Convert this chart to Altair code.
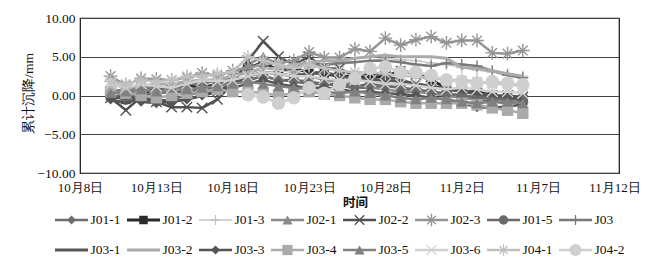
import json
import altair as alt
import pandas as pd

# ---------------- data ----------------
# x = days after 10月8日 ; readings run daily from 10/10 to 11/6
obs_days = list(range(2, 30))
tick_days = [0, 5, 10, 15, 20, 25, 30, 35]
tick_labels = ["10月8日", "10月13日", "10月18日", "10月23日", "10月28日",
               "11月2日", "11月7日", "11月12日"]
y_ticks = [-10, -5, 0, 5, 10]

series_names = ["J01-1", "J01-2", "J01-3", "J02-1", "J02-2", "J02-3", "J01-5", "J03",
                "J03-1", "J03-2", "J03-3", "J03-4", "J03-5", "J03-6", "J04-1", "J04-2"]

J01_1 = [-0.3, 0.2, -0.5, -0.8, -0.5, 0.0, 0.5, 0.8, 1.5, 2.0, 2.5, 2.0, 1.8, 1.5,
         1.5, 1.2, 1.0, 1.0, 1.2, 1.0, 0.5, 0.3, 0.0, -0.3, -0.5, -0.8, -1.0, -0.8]
J01_2 = [0.0, -0.5, 0.3, 0.8, 1.0, 1.3, 1.0, 1.5, 2.5, 3.5, 4.3, 3.2, 3.5, 3.0,
         2.8, 2.5, 2.5, 2.3, 2.5, 3.2, 2.8, 2.0, 1.0, 0.5, 0.5, 0.0, -0.3, -0.5]
J01_3 = [1.0, 0.5, 1.0, 1.2, 1.0, 1.5, 1.8, 2.0, 2.5, 3.0, 3.5, 3.2, 3.0, 3.5,
         3.8, 4.0, 4.3, 4.5, 4.8, 4.6, 4.5, 4.2, 4.0, 3.6, 3.3, 3.0, 2.8, 2.5]
J02_1 = [0.5, 0.0, 0.8, 0.5, 0.3, 0.8, 0.5, 1.0, 2.0, 4.0, 5.0, 4.0, 3.0, 2.5,
         2.0, 1.8, 1.5, 1.0, 0.8, 0.5, 0.5, 0.3, 0.0, -0.2, -0.3, -0.5, -0.5, -0.3]
J02_2 = [-0.3, -1.9, -0.2, -0.8, -1.5, -1.5, -1.6, -0.5, 1.5, 4.5, 7.0, 5.0, 4.0, 5.0,
         3.5, 3.5, 2.5, 3.0, 2.5, 2.0, 1.5, 1.2, 1.0, 0.5, 0.3, 0.0, 0.0, -0.2]
J02_3 = [2.5, 1.3, 2.2, 2.1, 2.0, 2.3, 2.9, 2.5, 3.2, 3.6, 4.0, 4.2, 4.5, 5.6,
         4.9, 4.9, 6.0, 5.7, 7.4, 6.5, 7.2, 7.6, 6.8, 7.1, 7.1, 5.5, 5.4, 5.8]
J01_5 = [0.0, -0.5, 0.0, 0.3, 0.5, 0.5, 0.8, 1.0, 1.5, 2.0, 2.5, 2.0, 2.0, 1.8,
         1.5, 1.5, 1.2, 1.5, 1.3, 1.0, 0.8, 0.5, 0.3, 0.0, -0.2, -0.3, -0.5, -0.5]
J03 = [0.5, 0.8, 1.0, 1.0, 1.2, 1.5, 1.5, 2.0, 2.5, 3.0, 3.5, 3.5, 3.8, 4.0,
       4.0, 4.2, 4.3, 4.5, 4.5, 4.3, 4.0, 3.8, 4.2, 4.0, 3.8, 3.2, 2.6, 2.3]
J03_1 = [-0.5, -1.0, -0.3, -0.5, -0.8, -0.5, 0.0, 0.5, 1.5, 2.5, 3.0, 2.8, 2.5, 2.8,
         3.0, 2.5, 2.2, 2.0, 2.0, 1.8, 1.5, 1.2, 0.8, 0.5, 0.2, 0.0, -0.2, -0.5]
J03_2 = [1.5, 1.0, 1.2, 1.5, 1.5, 1.8, 2.0, 2.0, 2.5, 3.0, 3.5, 3.5, 4.0, 4.2,
         4.5, 4.5, 4.8, 5.0, 5.2, 5.0, 5.0, 5.0, 4.8, 3.6, 3.5, 3.2, 2.8, 2.5]
J03_3 = [-0.5, 0.0, -0.8, -1.0, -0.8, -0.5, 0.0, 0.5, 1.0, 1.5, 2.0, 1.5, 1.2, 1.0,
         1.0, 0.8, 0.5, 0.5, 0.3, 0.2, 0.0, -0.3, -0.5, -1.0, -1.5, -1.6, -1.4, -1.2]
J03_4 = [0.5, 0.3, 0.0, -0.3, 0.0, 0.3, 0.5, 0.8, 0.5, 0.5, 0.3, 0.0, 0.3, 0.5,
         0.2, 0.0, -0.3, -0.5, -0.5, -0.8, -1.0, -1.0, -1.0, -1.0, -1.2, -1.6, -1.9, -2.3]
J03_5 = [0.3, 0.5, 0.8, 0.5, 1.0, 0.8, 1.0, 1.2, 1.5, 1.8, 1.5, 1.2, 1.0, 0.8,
         0.5, 0.3, 0.5, 0.3, 0.0, -0.3, -0.5, -0.3, -0.5, -0.8, -1.0, -0.8, -0.8, -1.0]
J03_6 = [1.5, 1.0, 1.5, 1.2, 1.0, 1.5, 2.0, 1.8, 2.0, 2.5, 3.0, 2.8, 2.5, 2.5,
         2.2, 2.0, 2.0, 1.8, 1.5, 1.5, 1.3, 1.0, 0.8, 1.0, 0.8, 0.5, 0.5, 0.3]
J04_1 = [1.8, 1.5, 2.0, 1.8, 2.0, 2.5, 2.5, 2.8, 3.0, 5.0, 4.5, 4.0, 3.5, 4.0,
         3.5, 3.2, 3.0, 3.0, 2.8, 2.5, 2.5, 2.2, 2.0, 2.0, 1.8, 1.5, 1.5, 1.2]
J04_2 = [None, None, None, None, None, None, None, None, None, 0.1, -0.2, -1.0, -0.3, 1.0,
         0.3, 1.4, 2.2, 3.5, 3.7, 3.0, 3.0, 2.6, 2.0, 1.8, 1.6, 1.8, 1.6, 1.4]

series_values = [J01_1, J01_2, J01_3, J02_1, J02_2, J02_3, J01_5, J03,
                 J03_1, J03_2, J03_3, J03_4, J03_5, J03_6, J04_1, J04_2]

# ---------------- styles ----------------
ASTER = "M-1,0L1,0M0,-1L0,1M-0.7,-0.7L0.7,0.7M-0.7,0.7L0.7,-0.7"
XMARK = "M-1,-1L1,1M-1,1L1,-1"
PLUS = "M0,-1L0,1M-1,0L1,0"
SEG = "M-1,0L1,0"

styles = {
    "J01-1": dict(color="#6e6e6e", w=2.5, shape="diamond", size=100, filled=True),
    "J01-2": dict(color="#2b2b2b", w=3.0, shape="square", size=90, filled=True),
    "J01-3": dict(color="#c4c4c4", w=1.5, shape=PLUS, size=120, filled=False),
    "J02-1": dict(color="#8a8a8a", w=2.5, shape="triangle-up", size=130, filled=True),
    "J02-2": dict(color="#505050", w=2.5, shape=XMARK, size=110, filled=False),
    "J02-3": dict(color="#959595", w=2.5, shape=ASTER, size=190, filled=False),
    "J01-5": dict(color="#6a6a6a", w=2.5, shape="circle", size=110, filled=True),
    "J03":   dict(color="#7a7a7a", w=2.5, shape=PLUS, size=120, filled=False),
    "J03-1": dict(color="#555555", w=3.0, shape=None, size=0, filled=True),
    "J03-2": dict(color="#aaaaaa", w=3.0, shape=None, size=0, filled=True),
    "J03-3": dict(color="#555555", w=2.5, shape="diamond", size=100, filled=True),
    "J03-4": dict(color="#aaaaaa", w=2.5, shape="square", size=130, filled=True),
    "J03-5": dict(color="#808080", w=2.5, shape="triangle-up", size=130, filled=True),
    "J03-6": dict(color="#d0d0d0", w=2.5, shape=XMARK, size=120, filled=False),
    "J04-1": dict(color="#c0c0c0", w=2.5, shape=ASTER, size=170, filled=False),
    "J04-2": dict(color="#cfcfcf", w=2.5, shape="circle", size=180, filled=True),
}

FONT = "Liberation Serif"
CJK = "Noto Sans CJK SC"

rows = []
for name, vals in zip(series_names, series_values):
    for d, v in zip(obs_days, vals):
        if v is not None:
            rows.append({"series": name, "day": d, "value": v})
df = pd.DataFrame(rows)

label_expr = json.dumps(tick_labels, ensure_ascii=False) + "[round(datum.value / 5)]"

x_enc = alt.X("day:Q",
              scale=alt.Scale(domain=[0, 35.3], nice=False, zero=False),
              axis=alt.Axis(values=tick_days, labelExpr=label_expr, grid=False,
                            ticks=False, domain=False, labelPadding=8,
                            labelFontSize=13, labelFont=FONT, labelColor="#111",
                            labelOverlap=False, labelFlush=False, labelBound=False,
                            title="时间", titleFont=CJK,
                            titleFontSize=12.5, titleFontWeight="bold",
                            titleX=275, titleY=29, titleBaseline="middle",
                            titleAlign="center", titleColor="#111"))
y_enc = alt.Y("value:Q",
              scale=alt.Scale(domain=[-10, 10], nice=False),
              axis=alt.Axis(values=y_ticks, format=".2f", grid=True, gridColor="#444",
                            gridWidth=1, ticks=False, domain=False, labelPadding=5,
                            labelFontSize=13.5, labelFont=FONT, labelColor="#111",
                            title="累计沉降/mm", titleFont=FONT, titleFontSize=13.5,
                            titleFontWeight="normal", titleColor="#111",
                            titleAngle=-90, titleX=-52, titleY=75,
                            titleAlign="center", titleBaseline="middle"))

main_layers = []
for name in series_names:
    st = styles[name]
    sub = df[df["series"] == name]
    base = alt.Chart(sub).encode(x=x_enc, y=y_enc)
    main_layers.append(base.mark_line(color=st["color"], strokeWidth=st["w"]))
    if st["shape"]:
        main_layers.append(base.mark_point(shape=st["shape"], size=st["size"],
                                           filled=st["filled"], color=st["color"],
                                           opacity=1, strokeWidth=1.4))
main = alt.layer(*main_layers)

# ---------------- legend (two rows of eight) ----------------
leg = pd.DataFrame({"series": series_names,
                    "col": [i % 8 for i in range(len(series_names))],
                    "row": [i // 8 for i in range(len(series_names))]})
lx = alt.X("col:Q", scale=alt.Scale(domain=[0, 7], range=[-8.5, 495.5]), axis=None)
ly = alt.Y("row:Q", scale=alt.Scale(domain=[0, 1], range=[202, 232]), axis=None)

leg_layers = []
for name in series_names:
    st = styles[name]
    sub = leg[leg["series"] == name]
    b = alt.Chart(sub).encode(x=lx, y=ly)
    leg_layers.append(b.mark_point(shape=SEG, size=1089, filled=False,
                                   color=st["color"], opacity=1, strokeWidth=st["w"]))
    if st["shape"]:
        leg_layers.append(b.mark_point(shape=st["shape"], size=st["size"] * 0.8,
                                       filled=st["filled"], color=st["color"],
                                       opacity=1, strokeWidth=1.3))
leg_layers.append(alt.Chart(leg).mark_text(align="left", baseline="middle", dx=19,
                                           font=FONT, fontSize=13.5, color="#111")
                  .encode(x=lx, y=ly, text="series:N"))
legend = alt.layer(*leg_layers)

chart = (alt.layer(main, legend)
         .resolve_scale(x="independent", y="independent")
         .properties(width=539, height=155,
                     autosize=alt.AutoSizeParams(type="none"),
                     padding={"left": 80, "top": 18, "right": 30, "bottom": 92},
                     background="white")
         .configure_view(stroke="#111", strokeWidth=1.2))

chart.save("out.html", embed_options={"renderer": "svg", "actions": False})
